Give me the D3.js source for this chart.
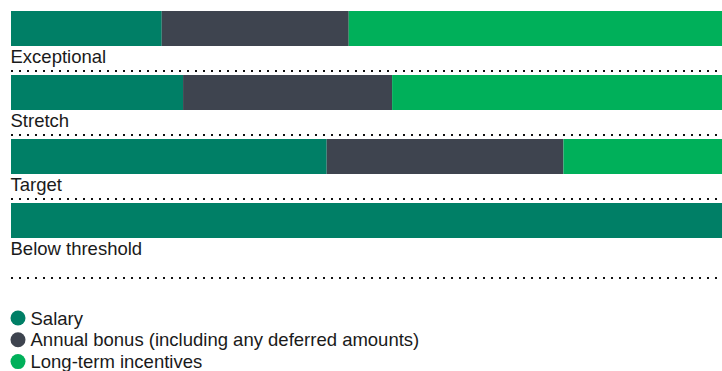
<!DOCTYPE html>
<html>
<head>
<meta charset="utf-8">
<script src="https://cdn.jsdelivr.net/npm/d3@7"></script>
<style>
  html, body { margin: 0; padding: 0; background: #fff; }
  svg { display: block; }
  text { font-family: "Liberation Sans", Arial, Helvetica, sans-serif; fill: #1a1a1a; }
</style>
</head>
<body>
<svg id="chart" width="722" height="371"></svg>
<script>
// Remuneration mix per performance scenario (% of total)
const scenarios = ["Exceptional", "Stretch", "Target", "Below threshold"];
const seriesKeys = ["Salary", "Annual bonus (including any deferred amounts)", "Long-term incentives"];
const salary = [21.2, 24.2, 44.4, 100];
const annualBonus = [26.3, 29.4, 33.3, 0];
const longTermIncentives = [52.5, 46.4, 22.3, 0];
const colors = ["#007f66", "#3e444f", "#00b05a"];

const svg = d3.select("#chart");
const W = 722;
const fontSize = 18.5;

const rows = scenarios.map((name, i) => ({
  name,
  [seriesKeys[0]]: salary[i],
  [seriesKeys[1]]: annualBonus[i],
  [seriesKeys[2]]: longTermIncentives[i]
}));

const stacked = d3.stack().keys(seriesKeys)(rows);

const x = d3.scaleLinear().domain([0, 100]).range([11, W]);

// Row tops; the last row carries a little extra space before its rule
const y = d3.scaleBand().domain(scenarios).range([11, 267]).paddingInner(0).paddingOuter(0);
const barH = 35;

const color = d3.scaleOrdinal().domain(seriesKeys).range(colors);

svg.append("g")
  .selectAll("g")
  .data(stacked)
  .join("g")
  .attr("fill", d => color(d.key))
  .selectAll("rect")
  .data(d => d)
  .join("rect")
  .attr("x", d => x(d[0]))
  .attr("y", d => y(d.data.name))
  .attr("width", d => Math.max(0, x(d[1]) - x(d[0])))
  .attr("height", barH);

// Scenario labels under each bar
svg.append("g")
  .selectAll("text")
  .data(scenarios)
  .join("text")
  .attr("x", 10.5)
  .attr("y", d => y(d) + barH + 16.5)
  .attr("font-size", fontSize)
  .text(d => d);

// Dotted separators
const ruleY = scenarios.map((d, i) => i < scenarios.length - 1 ? y(d) + barH + 25 : y(d) + barH + 40);
svg.append("g")
  .selectAll("line")
  .data(ruleY)
  .join("line")
  .attr("x1", 11)
  .attr("x2", W)
  .attr("y1", d => d)
  .attr("y2", d => d)
  .attr("stroke", "#111")
  .attr("stroke-width", 2)
  .attr("stroke-dasharray", "2 6");

// Legend
const legend = svg.append("g")
  .selectAll("g")
  .data(seriesKeys)
  .join("g")
  .attr("transform", (d, i) => `translate(18, ${318 + i * 21.8})`);

legend.append("circle")
  .attr("r", 7.5)
  .attr("fill", d => color(d));

legend.append("text")
  .attr("x", 12.5)
  .attr("y", 6.5)
  .attr("font-size", fontSize)
  .text(d => d);
</script>
</body>
</html>
